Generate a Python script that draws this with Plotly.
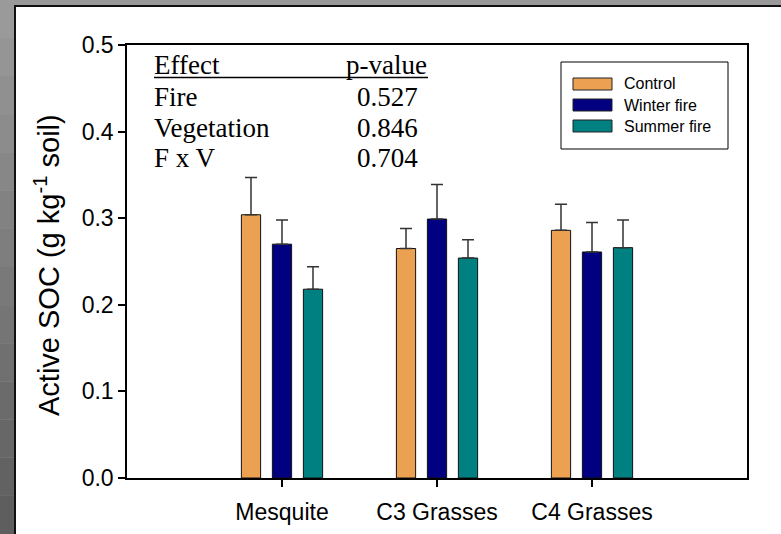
import plotly.graph_objects as go

# ---- data ----
categories = ["Mesquite", "C3 Grasses", "C4 Grasses"]
treatments = ["Control", "Winter fire", "Summer fire"]
control = [0.304, 0.265, 0.286]
winter_fire = [0.270, 0.299, 0.261]
summer_fire = [0.218, 0.254, 0.266]
control_se = [0.043, 0.023, 0.030]
winter_fire_se = [0.028, 0.040, 0.034]
summer_fire_se = [0.026, 0.021, 0.032]
effects = ["Fire", "Vegetation", "F x V"]
p_values = ["0.527", "0.846", "0.704"]
y_ticks = [0.0, 0.1, 0.2, 0.3, 0.4, 0.5]

colors = ["#EBA052", "#000080", "#008080"]

W, H = 781, 534
L, R, T, B = 127, 34, 45, 56
PW, PH = W - L - R, H - T - B


def px2x(px):
    return (px - L) / PW


def px2y(py):
    return (H - B - py) / PH


fig = go.Figure()
series = [control, winter_fire, summer_fire]
errs = [control_se, winter_fire_se, summer_fire_se]
for name, vals, err, col in zip(treatments, series, errs, colors):
    fig.add_trace(go.Bar(
        x=categories, y=vals, name=name,
        marker=dict(color=col, line=dict(color="#111111", width=1)),
        error_y=dict(type="data", array=err, arrayminus=[0] * len(err),
                     symmetric=False, color="#333333", thickness=1.5, width=6),
        showlegend=False,
    ))

shapes = []
# grey slide frame
n = 14
for i in range(n):
    y0 = H - (i + 1) * H / n
    y1 = H - i * H / n
    g = int(0x5e + (0x9a - 0x5e) * (i / (n - 1)))
    c = f"rgb({g},{g},{g})"
    shapes.append(dict(type="rect", xref="paper", yref="paper",
                       x0=px2x(0), x1=px2x(14), y0=px2y(y1), y1=px2y(y0),
                       fillcolor=c, line=dict(width=0), layer="below"))
shapes.append(dict(type="rect", xref="paper", yref="paper",
                   x0=px2x(14), x1=px2x(W), y0=px2y(5), y1=px2y(0),
                   fillcolor="#999999", line=dict(width=0), layer="below"))
shapes.append(dict(type="rect", xref="paper", yref="paper",
                   x0=px2x(14), x1=px2x(W), y0=px2y(H), y1=px2y(5),
                   fillcolor="#111111", line=dict(width=0), layer="below"))
shapes.append(dict(type="rect", xref="paper", yref="paper",
                   x0=px2x(16), x1=px2x(W), y0=px2y(H), y1=px2y(7),
                   fillcolor="white", line=dict(width=0), layer="below"))

# table underline
shapes.append(dict(type="line", xref="paper", yref="paper",
                   x0=px2x(154), x1=px2x(428), y0=px2y(77.5), y1=px2y(77.5),
                   line=dict(color="black", width=1.5)))

# legend box
shapes.append(dict(type="rect", xref="paper", yref="paper",
                   x0=px2x(561), x1=px2x(728), y0=px2y(149), y1=px2y(62),
                   fillcolor="white", line=dict(color="black", width=1)))
leg_y = [84, 105, 126]
annotations = []
for name, col, yy in zip(treatments, colors, leg_y):
    shapes.append(dict(type="rect", xref="paper", yref="paper",
                       x0=px2x(573), x1=px2x(612), y0=px2y(yy + 6), y1=px2y(yy - 6),
                       fillcolor=col, line=dict(color="#222222", width=1)))
    annotations.append(dict(xref="paper", yref="paper", x=px2x(622), y=px2y(yy),
                            text=name, showarrow=False, xanchor="left", yanchor="middle",
                            font=dict(family="Liberation Sans, Arial", size=16, color="black")))

# stats table
tfont = dict(family="Liberation Serif, Times New Roman", size=27, color="black")
annotations.append(dict(xref="paper", yref="paper", x=px2x(152), y=px2y(65),
                        text="Effect", showarrow=False, xanchor="left", yanchor="middle", font=tfont))
annotations.append(dict(xref="paper", yref="paper", x=px2x(429), y=px2y(65),
                        text="p-value", showarrow=False, xanchor="right", yanchor="middle", font=tfont))
row_y = [97, 128, 158]
for eff, pv, yy in zip(effects, p_values, row_y):
    annotations.append(dict(xref="paper", yref="paper", x=px2x(152), y=px2y(yy),
                            text=eff, showarrow=False, xanchor="left", yanchor="middle", font=tfont))
    annotations.append(dict(xref="paper", yref="paper", x=px2x(420), y=px2y(yy),
                            text=pv, showarrow=False, xanchor="right", yanchor="middle", font=tfont))

# y-axis title
annotations.append(dict(xref="paper", yref="paper", x=px2x(47), y=px2y(265),
                        text="Active SOC (g kg<sup>-1</sup> soil)", showarrow=False,
                        textangle=-90, xanchor="center", yanchor="middle",
                        font=dict(family="Liberation Sans, Arial", size=29, color="black")))

fig.update_layout(
    width=W, height=H, autosize=False,
    margin=dict(l=L, r=R, t=T, b=B, autoexpand=False),
    paper_bgcolor="#999999",
    plot_bgcolor="white",
    barmode="group",
    bargap=0.4,
    bargroupgap=0.38,
    shapes=shapes,
    annotations=annotations,
    font=dict(family="Liberation Sans, Arial", color="black"),
    xaxis=dict(type="category", range=[-1, 3], showline=True, linecolor="black",
               linewidth=1.5, mirror=True, ticks="outside", ticklen=7, tickwidth=1.5,
               tickcolor="black", showgrid=False, zeroline=False, automargin=False,
               tickfont=dict(size=23), ticklabelstandoff=6),
    yaxis=dict(range=[0, 0.5], tickvals=y_ticks, tickformat=".1f", showline=True,
               linecolor="black", linewidth=1.5, mirror=True, ticks="outside",
               ticklen=7, tickwidth=1.5, tickcolor="black", showgrid=False,
               zeroline=False, automargin=False, tickfont=dict(size=23)),
)

fig.write_html("out.html",
               config={"displayModeBar": False, "responsive": False},
               post_script="document.body.style.margin='0px';document.body.style.overflow='hidden';")
